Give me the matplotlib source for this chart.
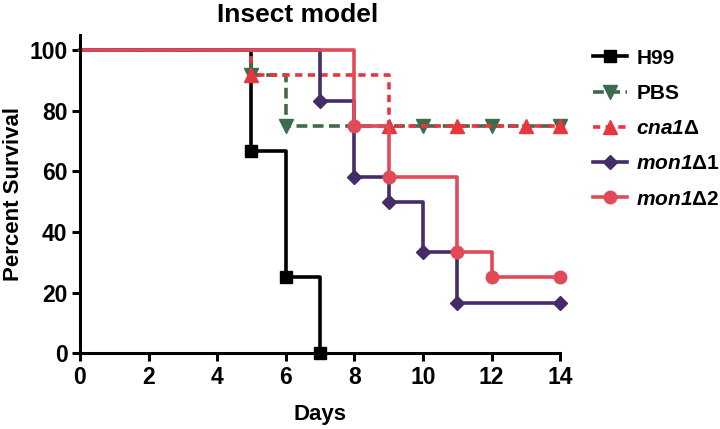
import matplotlib
matplotlib.use("Agg")
import matplotlib.pyplot as plt
from matplotlib.lines import Line2D

plt.rcParams['font.family'] = ['Liberation Sans', 'DejaVu Sans']
plt.rcParams['font.weight'] = 'bold'
plt.rcParams['mathtext.fontset'] = 'custom'
plt.rcParams['mathtext.rm'] = 'Liberation Sans:italic:bold'
plt.rcParams['mathtext.it'] = 'Liberation Sans:italic:bold'
plt.rcParams['mathtext.sf'] = 'Liberation Sans:bold'

# survival data (day, percent)
h99_days = [0, 5, 6, 7]
h99_surv = [100, 66.7, 25, 0]
pbs_days = [0, 5, 6, 10, 12, 14]
pbs_surv = [100, 91.7, 75, 75, 75, 75]
cna1_days = [0, 5, 9, 11, 13, 14]
cna1_surv = [100, 91.7, 75, 75, 75, 75]
mon1_1_days = [0, 7, 8, 9, 10, 11, 14]
mon1_1_surv = [100, 83.3, 58.3, 50, 33.3, 16.7, 16.7]
mon1_2_days = [0, 8, 9, 11, 12, 14]
mon1_2_surv = [100, 75, 58.3, 33.3, 25, 25]

labels = ['H99', 'PBS', r'$\mathit{cna1}\mathsf{\Delta}$',
          r'$\mathit{mon1}\mathsf{\Delta 1}$', r'$\mathit{mon1}\mathsf{\Delta 2}$']
x_ticks = [0, 2, 4, 6, 8, 10, 12, 14]
y_ticks = [0, 20, 40, 60, 80, 100]

fig = plt.figure(figsize=(7.2, 4.29), dpi=100)
ax = fig.add_axes([0.111, 0.177, 0.667, 0.741])

lw = 2.6
styles = [
    dict(color='black', ls='-', marker='s', ms=8),
    dict(color='#3d6b4c', ls=(0, (3, 1.5)), marker='v', ms=9.5),
    dict(color='#e8363f', ls=(0, (2, 1.5)), marker='^', ms=9.5),
    dict(color='#452c68', ls='-', marker='D', ms=7.5),
    dict(color='#e14a58', ls='-', marker='o', ms=9),
]
series = [(h99_days, h99_surv), (pbs_days, pbs_surv), (cna1_days, cna1_surv),
          (mon1_1_days, mon1_1_surv), (mon1_2_days, mon1_2_surv)]

handles = []
for (d, s), st in zip(series, styles):
    ax.plot(d, s, drawstyle='steps-post', lw=lw, markevery=slice(1, None),
            clip_on=False, **st)
    handles.append(Line2D([], [], lw=lw, **st))

ax.set_xlim(0, 14)
ax.set_ylim(0, 105)
ax.set_xticks(x_ticks)
ax.set_yticks(y_ticks)
ax.spines['top'].set_visible(False)
ax.spines['right'].set_visible(False)
for s in ['left', 'bottom']:
    ax.spines[s].set_linewidth(2.2)
ax.tick_params(width=2.2, length=6, labelsize=16.5, pad=3)
for t in ax.get_xticklabels() + ax.get_yticklabels():
    t.set_fontweight('bold')

ax.set_xlabel('Days', fontsize=16, fontweight='bold', labelpad=11)
ax.set_ylabel('Percent Survival', fontsize=16, fontweight='bold', labelpad=4)
fig.text(0.414, 0.965, 'Insect model', fontsize=19, fontweight='bold',
         ha='center', va='center')

leg = ax.legend(handles, labels, loc='upper left', bbox_to_anchor=(1.052, 0.984),
                borderaxespad=0, frameon=False, prop={'size': 15, 'weight': 'bold'},
                handlelength=1.6, labelspacing=0.78, handletextpad=0.45)

fig.savefig('out.png', dpi=100)
